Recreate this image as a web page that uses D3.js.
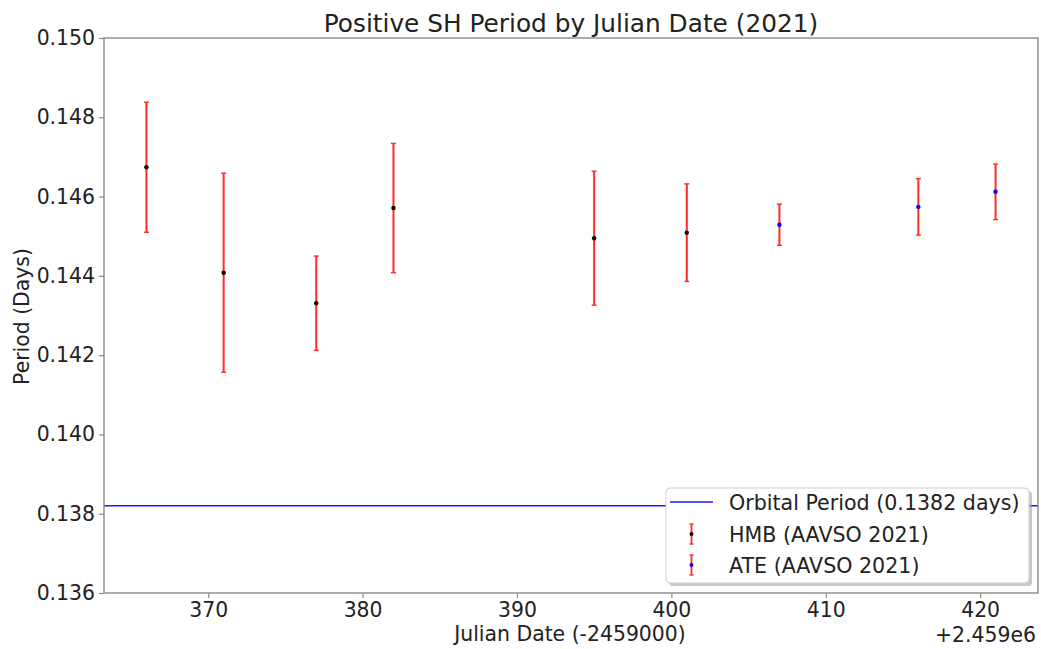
<!DOCTYPE html>
<html>
<head>
<meta charset="utf-8">
<script src="https://cdn.jsdelivr.net/npm/d3@7"></script>
<style>
  html, body { margin: 0; padding: 0; background: #fff; }
  svg { display: block; font-family: "DejaVu Sans", sans-serif; }
</style>
</head>
<body>
<svg id="chart" width="1041" height="649"></svg>
<script>
// ---- data ----
const hmbDates   = [366, 371, 377, 382, 395, 401];
const hmbPeriods = [0.14674, 0.14408, 0.14331, 0.14571, 0.14495, 0.14509];
const hmbErrors  = [0.00164, 0.00251, 0.00119, 0.00163, 0.00169, 0.00123];

const ateDates   = [407, 416, 421];
const atePeriods = [0.14529, 0.14574, 0.14612];
const ateErrors  = [0.00052, 0.00071, 0.00070];

const orbitalPeriod = 0.1382;
const xTicks = [370, 380, 390, 400, 410, 420];
const yTicks = [0.136, 0.138, 0.140, 0.142, 0.144, 0.146, 0.148, 0.150];
const legendLabels = ["Orbital Period (0.1382 days)", "HMB (AAVSO 2021)", "ATE (AAVSO 2021)"];

// ---- layout ----
const svg = d3.select("#chart");
const L = 104, R = 1038, T = 38, B = 593;
const allDates = hmbDates.concat(ateDates);
const xMin = d3.min(allDates), xMax = d3.max(allDates);
const pad = (xMax - xMin) * 0.05;
const x = d3.scaleLinear().domain([xMin - pad, xMax + pad]).range([L, R]);
const y = d3.scaleLinear().domain([0.136, 0.150]).range([B, T]);

const spine = "#8a8a8a";
const errRed = "#ff2a2a";

// title
svg.append("text").attr("x", (L + R) / 2).attr("y", 32)
  .attr("text-anchor", "middle").attr("font-size", 24.8).attr("fill", "#222")
  .text("Positive SH Period by Julian Date (2021)");

// orbital line
svg.append("line")
  .attr("x1", L).attr("x2", R)
  .attr("y1", y(orbitalPeriod)).attr("y2", y(orbitalPeriod))
  .attr("stroke", "#1a1aff").attr("stroke-width", 1.6);

// error bars
function drawSeries(dates, vals, errs, dotColor) {
  const g = svg.append("g");
  dates.forEach((d, i) => {
    const cx = x(d), lo = y(vals[i] - errs[i]), hi = y(vals[i] + errs[i]);
    g.append("line").attr("x1", cx).attr("x2", cx).attr("y1", lo).attr("y2", hi)
      .attr("stroke", errRed).attr("stroke-width", 2);
    [lo, hi].forEach(yy => g.append("line")
      .attr("x1", cx - 2.5).attr("x2", cx + 2.5).attr("y1", yy).attr("y2", yy)
      .attr("stroke", errRed).attr("stroke-width", 1.4));
    g.append("circle").attr("cx", cx).attr("cy", y(vals[i])).attr("r", 2.2)
      .attr("fill", dotColor);
  });
}
drawSeries(hmbDates, hmbPeriods, hmbErrors, "#000");
drawSeries(ateDates, atePeriods, ateErrors, "#0000ff");

// axes
const xAxis = svg.append("g").attr("transform", `translate(0,${B})`)
  .call(d3.axisBottom(x).tickValues(xTicks).tickSize(5).tickPadding(4.5).tickFormat(d3.format("d")));
const yAxis = svg.append("g").attr("transform", `translate(${L},0)`)
  .call(d3.axisLeft(y).tickValues(yTicks).tickSize(5).tickPadding(4).tickFormat(d3.format(".3f")));
[xAxis, yAxis].forEach(a => {
  a.select(".domain").remove();
  a.selectAll(".tick line").attr("stroke", spine).attr("stroke-width", 1.2);
  a.selectAll(".tick text").attr("font-size", 20.4).attr("fill", "#222")
    .attr("font-family", "DejaVu Sans, sans-serif");
});
xAxis.selectAll(".tick text").attr("dy", "0.71em");

// frame
svg.append("rect").attr("x", L).attr("y", T).attr("width", R - L).attr("height", B - T)
  .attr("fill", "none").attr("stroke", spine).attr("stroke-width", 1.4);

// axis labels
svg.append("text").attr("x", (L + R) / 2 - 1).attr("y", 641)
  .attr("text-anchor", "middle").attr("font-size", 20.4).attr("fill", "#222")
  .text("Julian Date (-2459000)");
svg.append("text").attr("x", R - 2).attr("y", 642)
  .attr("text-anchor", "end").attr("font-size", 20.4).attr("fill", "#222")
  .text("+2.459e6");
svg.append("text").attr("transform", `translate(28.5,${(T + B) / 2 + 1}) rotate(-90)`)
  .attr("text-anchor", "middle").attr("font-size", 20.4).attr("fill", "#222")
  .text("Period (Days)");

// legend
const lg = svg.append("g");
const lx = 666, ly = 488, lw = 363, lh = 95;
lg.append("rect").attr("x", lx + 3).attr("y", ly + 3).attr("width", lw).attr("height", lh)
  .attr("rx", 4).attr("fill", "#9a9a9a").attr("opacity", 0.55);
lg.append("rect").attr("x", lx).attr("y", ly).attr("width", lw).attr("height", lh)
  .attr("rx", 4).attr("fill", "#fff").attr("stroke", "#d0d0d0").attr("stroke-width", 1);
const rowY = [502, 534, 565];
lg.append("line").attr("x1", 670).attr("x2", 713).attr("y1", rowY[0]).attr("y2", rowY[0])
  .attr("stroke", "#1a1aff").attr("stroke-width", 1.6);
[[rowY[1], "#000"], [rowY[2], "#0000ff"]].forEach(([ry, c]) => {
  const hx = 691.5;
  lg.append("line").attr("x1", hx).attr("x2", hx).attr("y1", ry - 10).attr("y2", ry + 10)
    .attr("stroke", errRed).attr("stroke-width", 1.8);
  [ry - 10, ry + 10].forEach(yy => lg.append("line").attr("x1", hx - 2).attr("x2", hx + 2)
    .attr("y1", yy).attr("y2", yy).attr("stroke", errRed).attr("stroke-width", 1.4));
  lg.append("circle").attr("cx", hx).attr("cy", ry).attr("r", 2).attr("fill", c);
});
legendLabels.forEach((t, i) => {
  lg.append("text").attr("x", 729).attr("y", rowY[i] + 7.5)
    .attr("font-size", 20.6).attr("fill", "#222").text(t);
});
</script>
</body>
</html>
